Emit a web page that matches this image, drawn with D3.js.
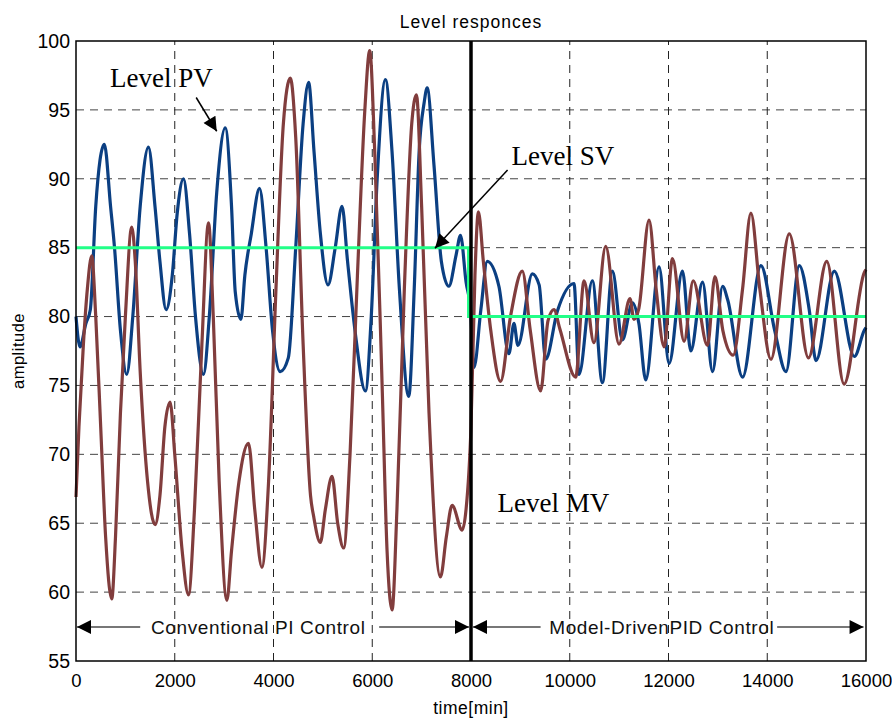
<!DOCTYPE html>
<html>
<head>
<meta charset="utf-8">
<script src="https://cdn.jsdelivr.net/npm/d3@7"></script>
<style>
  body { margin: 0; background: #fff; }
  svg text { font-family: "Liberation Sans", Arial, sans-serif; }
</style>
</head>
<body>
<div id="chart"></div>
<script>
// values
var xTicks = [0, 2000, 4000, 6000, 8000, 10000, 12000, 14000, 16000];
var yTicks = [55, 60, 65, 70, 75, 80, 85, 90, 95, 100];

var pvTime = [0, 80, 200, 290, 400, 574, 700, 780, 900, 1028, 1150, 1300, 1467, 1600, 1700, 1825, 1950, 2050, 2177, 2300, 2420, 2582, 2700, 2850, 3022, 3150, 3225, 3340, 3420, 3550, 3717, 3850, 3980, 4137, 4300, 4450, 4600, 4711, 4820, 4950, 5104, 5250, 5388, 5500, 5650, 5861, 5980, 6100, 6267, 6400, 6550, 6739, 6850, 6950, 7050, 7112, 7250, 7400, 7550, 7700, 7787, 7900, 7990, 8060, 8200, 8329, 8565, 8768, 8870, 8950, 9242, 9380, 9512, 9750, 10086, 10187, 10458, 10661, 10864, 11066, 11269, 11400, 11539, 11809, 12012, 12283, 12452, 12690, 12892, 13095, 13200, 13500, 13872, 14150, 14379, 14649, 14850, 14987, 15358, 15764, 15966, 16000];
var pvValue = [80.0, 77.8, 79.5, 80.5, 88, 92.5, 88, 85, 79, 75.8, 80, 88, 92.3, 88, 84, 80.5, 83, 87.5, 90.0, 86, 80, 75.8, 80, 89, 93.7, 88, 81.8, 79.8, 83, 86, 89.3, 85, 79, 76.0, 77, 85, 94, 97.0, 92, 86, 82.3, 85, 88, 84, 79, 74.6, 80, 90, 97.2, 92, 82, 74.2, 82, 92, 95.5, 96.6, 91, 84, 82.2, 84.5, 85.9, 82.5, 80.5, 76.3, 80.5, 84.0, 82.2, 77.3, 79.5, 77.9, 83.1, 82.3, 76.9, 80.4, 82.4, 75.8, 82.6, 75.2, 83.3, 78.3, 81.0, 79.5, 75.4, 83.6, 76.6, 83.3, 77.5, 82.5, 76.0, 82.2, 81.2, 75.6, 83.7, 79.0, 76.0, 83.7, 80.5, 76.8, 83.3, 77.1, 79.0, 79.2];

var mvTime = [0, 60, 150, 230, 318, 400, 500, 600, 724, 800, 900, 1000, 1129, 1200, 1300, 1450, 1602, 1700, 1800, 1906, 2000, 2150, 2278, 2400, 2550, 2684, 2780, 2900, 3056, 3150, 3300, 3494, 3620, 3765, 3900, 4050, 4200, 4340, 4450, 4600, 4750, 4813, 4948, 5050, 5185, 5300, 5421, 5550, 5700, 5850, 5949, 6050, 6200, 6300, 6402, 6500, 6650, 6800, 6895, 7000, 7150, 7382, 7500, 7618, 7821, 7900, 8000, 8080, 8150, 8250, 8400, 8599, 8800, 9039, 9200, 9410, 9560, 9680, 9800, 10120, 10290, 10490, 10728, 10998, 11220, 11300, 11400, 11606, 11750, 11911, 12081, 12316, 12500, 12790, 12940, 13100, 13310, 13500, 13669, 13850, 14074, 14446, 14835, 15205, 15555, 15966, 16000];
var mvValue = [66.9, 72, 78, 82, 84.4, 80, 72, 64, 59.5, 64, 73, 80, 86.5, 84, 76, 68, 64.9, 67, 72, 73.8, 70, 63, 59.8, 66, 78, 86.8, 80, 68, 59.4, 63, 68, 70.8, 66, 61.8, 68, 82, 94, 97.3, 93, 78, 67, 65.5, 63.6, 66, 68.4, 65, 63.2, 70, 83, 95, 99.3, 92, 75, 63, 58.7, 66, 82, 94, 96.1, 88, 73, 61.1, 64, 66.3, 64.5, 66, 72, 83, 87.6, 84, 79, 75.3, 80, 83.3, 79, 74.6, 79.7, 80.5, 79.1, 75.6, 82.6, 78.1, 85.1, 78.0, 81.3, 79.8, 80.6, 87.0, 82, 77.8, 84.2, 78.2, 82.6, 77.9, 82.9, 79, 77.2, 82, 87.5, 82, 76.9, 86.0, 77.0, 84.0, 75.1, 83.2, 83.4];

var svTime = [0, 7950, 7950, 16000];
var svValue = [85, 85, 80, 80];

var width = 892, height = 720;
var margin = {top: 41, right: 26, bottom: 59, left: 76};

var svg = d3.select("#chart").append("svg")
    .attr("width", width)
    .attr("height", height);

var x = d3.scaleLinear().domain([0, 16000]).range([margin.left, width - margin.right]);
var y = d3.scaleLinear().domain([55, 100]).range([height - margin.bottom, margin.top]);

// grid
svg.append("g").selectAll("line")
    .data(yTicks.slice(1, -1))
    .enter().append("line")
    .attr("x1", x(0)).attr("x2", x(16000))
    .attr("y1", function (d) { return y(d); })
    .attr("y2", function (d) { return y(d); })
    .attr("stroke", "#444")
    .attr("stroke-width", 1)
    .attr("stroke-dasharray", "8,6");

svg.append("g").selectAll("line")
    .data(xTicks.slice(1, -1))
    .enter().append("line")
    .attr("x1", function (d) { return x(d); })
    .attr("x2", function (d) { return x(d); })
    .attr("y1", y(55)).attr("y2", y(100))
    .attr("stroke", "#222")
    .attr("stroke-width", 1)
    .attr("stroke-dasharray", "8,6");

// axes
var xAxis = svg.append("g")
    .attr("transform", "translate(0," + y(55) + ")")
    .call(d3.axisBottom(x).tickValues(xTicks).tickSize(0).tickPadding(13).tickFormat(d3.format("d")));
var yAxis = svg.append("g")
    .attr("transform", "translate(" + x(0) + ",0)")
    .call(d3.axisLeft(y).tickValues(yTicks).tickSize(0).tickPadding(6));
[xAxis, yAxis].forEach(function (a) {
    a.select(".domain").remove();
    a.selectAll("text").attr("fill", "#000")
        .style("font-family", "'Liberation Sans', Arial, sans-serif");
});
xAxis.selectAll("text").attr("font-size", 18.5);
yAxis.selectAll("text").attr("font-size", 19.5);

// series
var line = d3.line()
    .x(function (d) { return x(d[0]); })
    .y(function (d) { return y(d[1]); })
    .curve(d3.curveMonotoneX);

var pv = d3.zip(pvTime, pvValue);
var mv = d3.zip(mvTime, mvValue);
var sv = d3.zip(svTime, svValue);

svg.append("path").datum(pv)
    .attr("d", line)
    .attr("fill", "none")
    .attr("stroke", "#0b3f82")
    .attr("stroke-width", 3.2)
    .attr("stroke-linejoin", "round");

svg.append("path").datum(mv)
    .attr("d", line)
    .attr("fill", "none")
    .attr("stroke", "#813d3d")
    .attr("stroke-width", 3.2)
    .attr("stroke-linejoin", "round");

svg.append("path").datum(sv)
    .attr("d", d3.line().x(function (d) { return x(d[0]); }).y(function (d) { return y(d[1]); }))
    .attr("fill", "none")
    .attr("stroke", "#22ff88")
    .attr("stroke-width", 3);

// switch-over line at 8000
svg.append("line")
    .attr("x1", x(8000)).attr("x2", x(8000))
    .attr("y1", y(55)).attr("y2", y(100))
    .attr("stroke", "#000")
    .attr("stroke-width", 3.5);

// frame
svg.append("rect")
    .attr("x", x(0)).attr("y", y(100))
    .attr("width", x(16000) - x(0))
    .attr("height", y(55) - y(100))
    .attr("fill", "none")
    .attr("stroke", "#000")
    .attr("stroke-width", 1.5);

// arrow heads
var defs = svg.append("defs");
defs.append("marker")
    .attr("id", "head")
    .attr("markerUnits", "userSpaceOnUse")
    .attr("viewBox", "0 0 10 10")
    .attr("refX", 10).attr("refY", 5)
    .attr("markerWidth", 16).attr("markerHeight", 14)
    .attr("orient", "auto")
    .append("path").attr("d", "M0,0L10,5L0,10Z").attr("fill", "#000");

function arrow(t0, v0, t1, v1, color, w) {
    svg.append("line")
        .attr("x1", x(t0)).attr("y1", y(v0))
        .attr("x2", x(t1)).attr("y2", y(v1))
        .attr("stroke", color)
        .attr("stroke-width", w)
        .attr("marker-end", "url(#head)");
}

// annotations
function note(t, v, s) {
    svg.append("text")
        .attr("x", x(t)).attr("y", y(v))
        .attr("font-size", 27)
        .style("font-family", "'Liberation Serif', 'Times New Roman', serif")
        .attr("fill", "#000")
        .text(s);
}
note(690, 96.66, "Level PV");
note(8822, 91.0, "Level SV");
note(8538, 65.8, "Level MV");
arrow(2434, 95.9, 2850, 93.45, "#000", 1.5);
arrow(8741, 90.64, 7270, 84.95, "#000", 1.5);

// control-mode ranges
var rangeY = 57.47;
arrow(1300, rangeY, 20, rangeY, "#777", 2);
arrow(6140, rangeY, 7960, rangeY, "#777", 2);
arrow(9410, rangeY, 8040, rangeY, "#777", 2);
arrow(14200, rangeY, 15950, rangeY, "#777", 2);

function rangeLabel(t, s) {
    svg.append("text")
        .attr("x", x(t)).attr("y", y(rangeY))
        .attr("dy", "0.35em")
        .attr("font-size", 19)
        .attr("letter-spacing", 0.6)
        .attr("fill", "#111")
        .text(s);
}
rangeLabel(1520, "Conventional PI Control");
rangeLabel(9585, "Model-DrivenPID Control");

// titles
svg.append("text")
    .attr("x", (x(0) + x(16000)) / 2).attr("y", 28)
    .attr("text-anchor", "middle")
    .attr("font-size", 17.5)
    .attr("letter-spacing", 1)
    .text("Level responces");

svg.append("text")
    .attr("x", (x(0) + x(16000)) / 2).attr("y", 714)
    .attr("text-anchor", "middle")
    .attr("font-size", 17.5)
    .attr("letter-spacing", 0.5)
    .text("time[min]");

svg.append("text")
    .attr("transform", "translate(24," + ((y(55) + y(100)) / 2) + ") rotate(-90)")
    .attr("text-anchor", "middle")
    .attr("font-size", 16.5)
    .attr("letter-spacing", 0.5)
    .text("amplitude");
</script>
</body>
</html>
